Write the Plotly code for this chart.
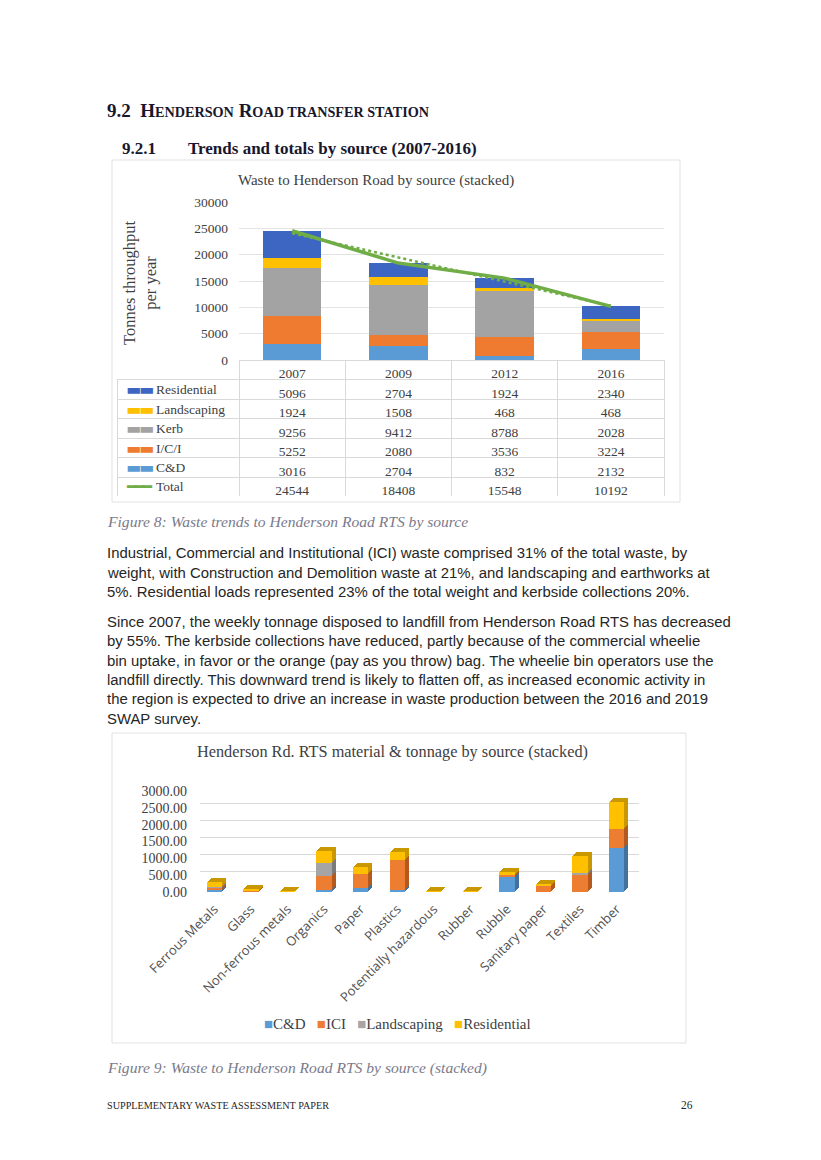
import numpy as np
import plotly.graph_objects as go

W, H = 821, 1160
OX, OY = 8, 8  # page body margin of the browser

# ---------------- Data: chart 1 ----------------
years = ["2007", "2009", "2012", "2016"]
residential = [5096, 2704, 1924, 2340]
landscaping = [1924, 1508, 468, 468]
kerb = [9256, 9412, 8788, 2028]
ici = [5252, 2080, 3536, 3224]
cd = [3016, 2704, 832, 2132]
total = [24544, 18408, 15548, 10192]
row_names = ["Residential", "Landscaping", "Kerb", "I/C/I", "C&D", "Total"]

# ---------------- Data: chart 2 ----------------
materials = ["Ferrous Metals", "Glass", "Non-ferrous metals", "Organics", "Paper", "Plastics",
             "Potentially hazardous", "Rubber", "Rubble", "Sanitary paper", "Textiles", "Timber"]
m_cd = [50, 10, 5, 50, 130, 50, 5, 5, 450, 10, 10, 1310]
m_ici = [80, 40, 10, 430, 400, 910, 5, 5, 80, 180, 500, 570]
m_land = [20, 0, 0, 370, 0, 0, 0, 0, 0, 0, 50, 0]
m_res = [140, 50, 10, 360, 220, 220, 5, 5, 50, 50, 510, 800]
legend2_names = ["C&D", "ICI", "Landscaping", "Residential"]

C_RES1, C_LAND1, C_KERB, C_ICI1, C_CD1 = "#3c66c2", "#ffc000", "#a3a3a3", "#ee7b30", "#5b9bd5"
C_TOT = "#70ad47"
C2 = ["#5b9bd5", "#ed7d31", "#a5a5a5", "#ffc000"]
C2_DARK = ["#41719c", "#b45a1e", "#7b7b7b", "#c99700"]

SERIF = "Liberation Serif"
SANS = "Liberation Sans"
TXT = "#404040"


def px_x(x):
    return (x - OX) / W


def px_y(y):
    return 1 - (y - OY) / H


fig = go.Figure()

# chart 1 stacked bars
for name, vals, col in [("C&D", cd, C_CD1), ("I/C/I", ici, C_ICI1), ("Kerb", kerb, C_KERB),
                        ("Landscaping", landscaping, C_LAND1), ("Residential", residential, C_RES1)]:
    fig.add_trace(go.Bar(x=years, y=vals, name=name, marker=dict(color=col, line=dict(width=0)),
                         width=0.55, xaxis="x", yaxis="y", showlegend=False))

# total line and its linear trend line
fig.add_trace(go.Scatter(x=years, y=total, mode="lines", line=dict(color=C_TOT, width=3.5),
                         xaxis="x", yaxis="y", showlegend=False))
idx = np.arange(1, len(total) + 1)
coef = np.polyfit(idx, total, 1)
trend = np.polyval(coef, idx)
fig.add_trace(go.Scatter(x=years, y=trend, mode="lines", line=dict(color=C_TOT, width=2.5, dash="dot"),
                         xaxis="x", yaxis="y", showlegend=False))

# data table under chart 1
series_rows = [residential, landscaping, kerb, ici, cd, total]
columns = [["" for _ in row_names]] + [[str(s[i]) for s in series_rows] for i in range(len(years))]
GRID = "#d9d9d9"
fig.add_trace(go.Table(
    domain=dict(x=[px_x(117), px_x(664)], y=[px_y(497), px_y(360)]),
    columnwidth=[122, 106.25, 106.25, 106.25, 106.25],
    header=dict(values=[""] + years, height=19.5, align="center",
                line=dict(color=["rgba(0,0,0,0)", GRID, GRID, GRID, GRID], width=1),
                fill=dict(color=["rgba(0,0,0,0)", "white", "white", "white", "white"]),
                font=dict(family=SERIF, size=13.5, color=TXT)),
    cells=dict(values=columns, height=19.5, align="center",
               line=dict(color=GRID, width=1), fill=dict(color="white"),
               font=dict(family=SERIF, size=13.5, color=TXT)),
))

# chart 2: 3-D look = darker copies shifted up-right (1..4 px) under the front bars
m_series = [m_cd, m_ici, m_land, m_res]
DEPTHS = [4, 3, 2, 1]           # drawn back to front on axes 2..5, front bars on axis 6
X0, X1, Y0, Y1 = 196, 635, 892, 791
axes_layout = {}
for n, d in enumerate(DEPTHS + [0], start=2):
    xa, ya = f"x{n}", f"y{n}"
    cols = C2 if d == 0 else C2_DARK
    for name, vals, col in zip(legend2_names, m_series, cols):
        fig.add_trace(go.Bar(x=materials, y=vals, name=name, marker=dict(color=col, line=dict(width=0)),
                             width=0.42, xaxis=xa, yaxis=ya, showlegend=False,
                             hoverinfo="skip" if d else None))
    front = d == 0
    axes_layout[f"xaxis{n}"] = dict(
        domain=[px_x(X0 + d), px_x(X1 + d)], type="category", anchor=ya, automargin=False,
        showticklabels=front, tickangle=-45, showgrid=False, zeroline=False, showline=False,
        ticks="", tickfont=dict(family="Open Sans", size=13, color="#505050"), ticklabelstandoff=6)
    axes_layout[f"yaxis{n}"] = dict(
        domain=[px_y(Y0 - d), px_y(Y1 - d)], range=[0, 3000], dtick=500, tickformat=".2f",
        anchor=xa, automargin=False, showgrid=(d == DEPTHS[0]), gridcolor="#d9d9d9", gridwidth=1.3,
        zeroline=False, showline=False, ticks="", showticklabels=front, ticklabelstandoff=8,
        tickfont=dict(family=SERIF, size=14, color=TXT))

fig.update_layout(
    template="none",
    width=W, height=H, autosize=False,
    margin=dict(l=0, r=0, t=0, b=0, pad=0),
    paper_bgcolor="white", plot_bgcolor="rgba(0,0,0,0)",
    barmode="stack",
    xaxis=dict(domain=[px_x(239), px_x(664)], type="category", showticklabels=False,
               showgrid=False, zeroline=False, showline=False, anchor="y", automargin=False),
    yaxis=dict(domain=[px_y(360), px_y(202)], range=[0, 30000], dtick=5000, tickformat="d",
               anchor="x", automargin=False,
               showgrid=True, gridcolor="#e3e3e3", gridwidth=1, zeroline=False, showline=False,
               ticks="", ticklabelstandoff=10,
               tickfont=dict(family=SERIF, size=13.5, color=TXT)),
    showlegend=False,
    **axes_layout,
)

# chart frames
fig.add_shape(type="rect", xref="paper", yref="paper", x0=px_x(112), x1=px_x(680),
              y0=px_y(502), y1=px_y(160), line=dict(color="#e2e2e2", width=1), layer="below")
fig.add_shape(type="rect", xref="paper", yref="paper", x0=px_x(112), x1=px_x(686),
              y0=px_y(1043), y1=px_y(733), line=dict(color="#e2e2e2", width=1), layer="below")


def text(x, y, s, size, family=SERIF, color="#262626", anchor="left", angle=0):
    fig.add_annotation(x=px_x(x), y=px_y(y), xref="paper", yref="paper", text=s, showarrow=False,
                       xanchor=anchor, yanchor="middle", align="left" if anchor == "left" else "center",
                       borderpad=0, textangle=angle,
                       font=dict(family=family, size=size, color=color))


# table row keys and labels
row_keys = [(C_RES1, "▬▬"), (C_LAND1, "▬▬"), (C_KERB, "▬▬"), (C_ICI1, "▬▬"), (C_CD1, "▬▬"), (C_TOT, "━━━")]
for i, (name, (col, glyph)) in enumerate(zip(row_names, row_keys)):
    yy = 389.5 + i * 19.5
    text(125, yy, f"<span style='color:{col};letter-spacing:-2px'>{glyph}</span>", 16, family="DejaVu Sans")
    text(155, yy, name.replace("&", "&amp;"), 13.5, color=TXT)

HEAD = "#17172e"
sc = "font-size:14.2px"
text(106, 111, f"<b>9.2  H<span style='{sc}'>ENDERSON</span> R<span style='{sc}'>OAD TRANSFER STATION</span></b>",
     19, color=HEAD)
text(121, 148, "<b>9.2.1</b>", 17, color=HEAD)
text(187, 148, "<b>Trends and totals by source (2007-2016)</b>", 17, color=HEAD)

text(376, 181, "Waste to Henderson Road by source (stacked)", 15, color=TXT, anchor="center")
text(140, 283, "Tonnes throughput<br>per year", 16.5, color=TXT, anchor="center", angle=-90)

CAP = "#7a7a8a"
text(106, 521, "<i>Figure 8: Waste trends to Henderson Road RTS by source</i>", 15.6, color=CAP)

para1 = [
    "Industrial, Commercial and Institutional (ICI) waste comprised 31% of the total waste, by",
    "weight, with Construction and Demolition waste at 21%, and landscaping and earthworks at",
    "5%. Residential loads represented 23% of the total weight and kerbside collections 20%.",
]
for i, line in enumerate(para1):
    text(106, 553 + i * 19.5, line, 14.9, family=SANS)

para2 = [
    "Since 2007, the weekly tonnage disposed to landfill from Henderson Road RTS has decreased",
    "by 55%. The kerbside collections have reduced, partly because of the commercial wheelie",
    "bin uptake, in favor or the orange (pay as you throw) bag. The wheelie bin operators use the",
    "landfill directly. This downward trend is likely to flatten off, as increased economic activity in",
    "the region is expected to drive an increase in waste production between the 2016 and 2019",
    "SWAP survey.",
]
for i, line in enumerate(para2):
    text(106, 622 + i * 19.3, line, 14.9, family=SANS)

text(392, 752, "Henderson Rd. RTS material &amp; tonnage by source (stacked)", 16.3, color=TXT,
     anchor="center")

legend2 = "   ".join(f"<span style='color:{c}'>■</span>{n.replace('&', '&amp;')}"
                     for n, c in zip(legend2_names, C2))
text(397, 1024, legend2, 15, color=TXT, anchor="center")

text(106, 1068, "<i>Figure 9: Waste to Henderson Road RTS by source (stacked)</i>", 15.6, color=CAP)
text(106, 1105, "SUPPLEMENTARY WASTE ASSESSMENT PAPER", 10.2, color="#262626")
text(694, 1105, "26", 11.5, color="#262626", anchor="right")

fig.write_html("out.html")
